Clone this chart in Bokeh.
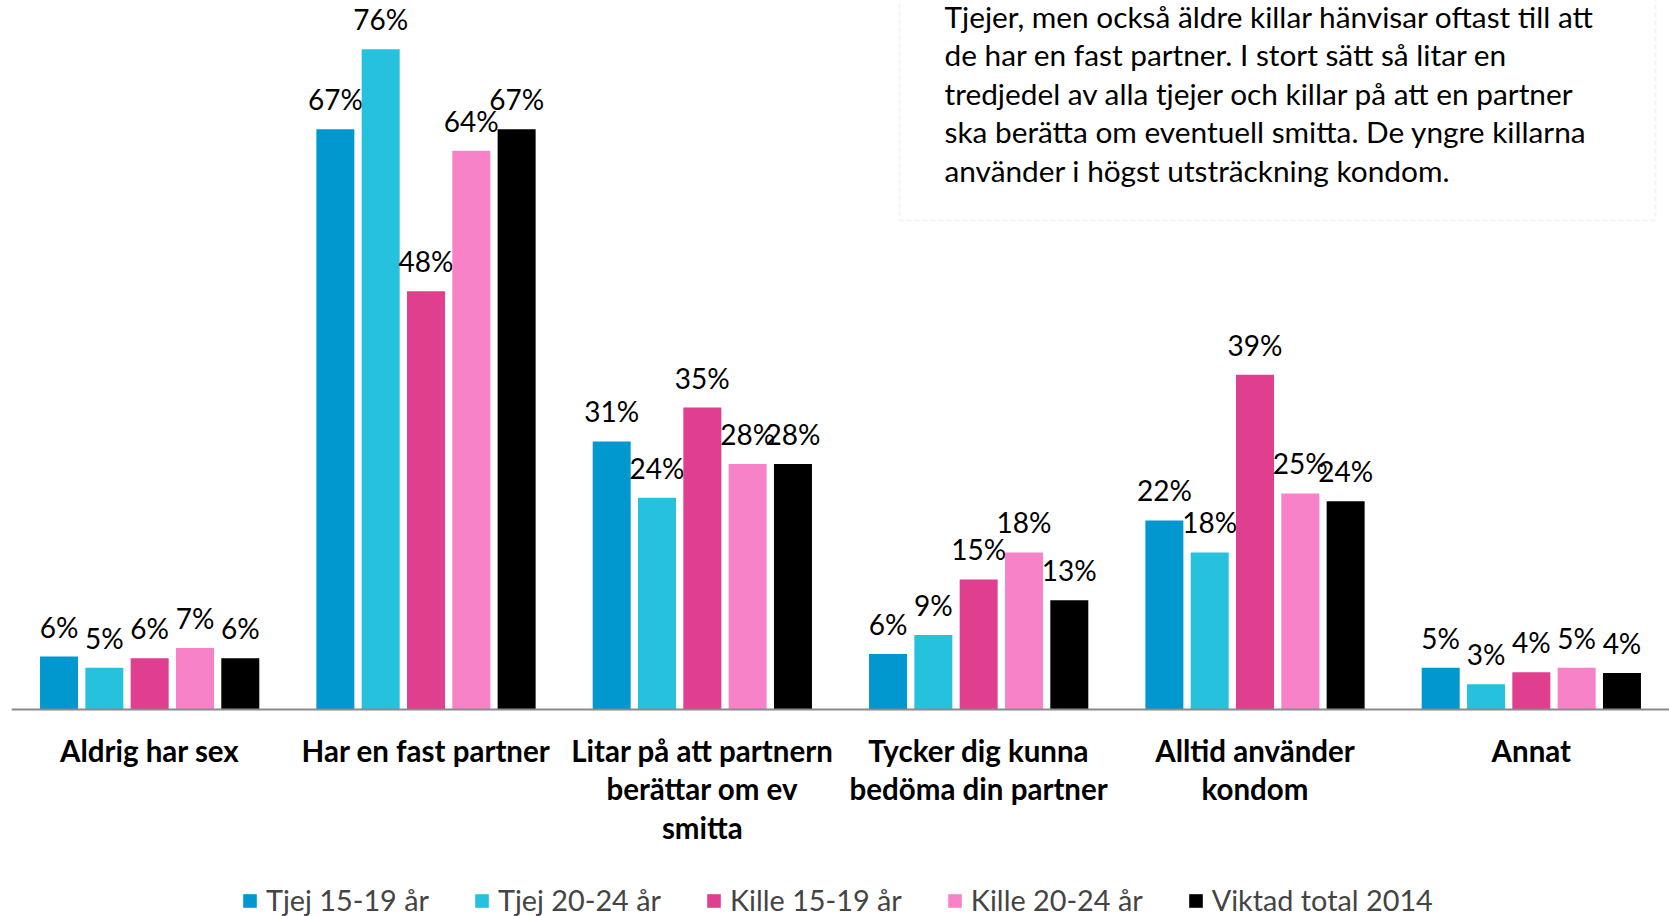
from bokeh.plotting import figure
from bokeh.models import FactorRange, Range1d, Legend, LegendItem, Label, BoxAnnotation, ColumnDataSource, Span
from bokeh.transform import dodge
from bokeh.core.properties import value
from bokeh.embed import file_html
from bokeh.resources import INLINE

categories = [
    "Aldrig har sex",
    "Har en fast partner",
    "Litar på att partnern\nberättar om ev\nsmitta",
    "Tycker dig kunna\nbedöma din partner",
    "Alltid använder\nkondom",
    "Annat",
]
series_names = ["Tjej 15-19 år", "Tjej 20-24 år", "Kille 15-19 år", "Kille 20-24 år", "Viktad total 2014"]
tjej_15_19 = [6.1, 66.9, 30.9, 6.4, 21.8, 4.8]
tjej_20_24 = [4.8, 76.1, 24.4, 8.6, 18.1, 2.9]
kille_15_19 = [5.9, 48.2, 34.8, 15.0, 38.6, 4.3]
kille_20_24 = [7.1, 64.4, 28.3, 18.1, 24.9, 4.8]
viktad_total = [5.9, 66.9, 28.3, 12.6, 24.0, 4.2]
series_values = [tjej_15_19, tjej_20_24, kille_15_19, kille_20_24, viktad_total]
colors = ["#0098CF", "#26C1DD", "#E03E8F", "#F782C7", "#000000"]

note_text = ("Tjejer, men också äldre killar hänvisar oftast till att\n"
             "de har en fast partner.  I stort sätt så litar en\n"
             "tredjedel av alla tjejer och killar på att en partner\n"
             "ska berätta om eventuell smitta. De yngre killarna\n"
             "använder i högst utsträckning kondom.")

FONT = "Lato"
W, H = 1669, 916
LEFT, RIGHT = 11, 0
BASE = 709                      # page y of the zero line
PX_PER_PCT = 8.675
FRAME_W = W - LEFT - RIGHT
Y_MAX = BASE / PX_PER_PCT
Y_MIN = -(H - BASE) / PX_PER_PCT

p = figure(
    x_range=FactorRange(*categories, range_padding=0),
    y_range=Range1d(Y_MIN, Y_MAX),
    width=W, height=H,
    output_backend="svg", toolbar_location=None,
    x_axis_location=None, y_axis_location=None,
    min_border_left=LEFT, min_border_right=RIGHT, min_border_top=0, min_border_bottom=0,
)
p.outline_line_color = None
p.grid.grid_line_color = None
p.background_fill_color = "white"
p.border_fill_color = "white"

# helpers: page pixel -> data coordinate (for the note box only)
px_x = FRAME_W / len(categories)
def dx(page_x):
    return (page_x - LEFT) / px_x
def dy(page_y):
    return Y_MAX - page_y / PX_PER_PCT

step = 0.164
width = 0.1375
items = []
for i, (name, vals, col) in enumerate(zip(series_names, series_values, colors)):
    src = ColumnDataSource(dict(cat=categories, val=vals, lbl=[f"{round(v)}%" for v in vals]))
    off = (i - 2) * step
    r = p.vbar(x=dodge("cat", off, range=p.x_range), top="val", width=width, source=src,
               fill_color=col, line_color=None)
    p.text(x=dodge("cat", off, range=p.x_range), y="val", text="lbl", source=src,
           text_align="center", text_baseline="middle", y_offset=-30,
           text_font=value(FONT), text_font_size="28px", text_color="#000000")
    items.append(LegendItem(label=name, renderers=[r]))

# category axis line and labels
p.add_layout(Span(location=0, dimension="width", line_color="#8a8a8a", line_width=2))
cat_src = ColumnDataSource(dict(cat=categories, zero=[0] * len(categories)))
p.text(x="cat", y="zero", text="cat", source=cat_src, text_align="center", text_baseline="top",
       y_offset=23, text_font=value(FONT), text_font_style="bold", text_font_size="29.5px",
       text_line_height=1.10, text_color="#000000")

# note box
box = BoxAnnotation(left=dx(899), right=dx(1655), bottom=dy(220), top=dy(-40),
                    fill_alpha=0, line_color="#d6d6d6", line_dash="5 3", line_width=1.8)
p.add_layout(box)
note = Label(x=dx(944), y=dy(-2), text=note_text, text_baseline="top", text_align="left",
             text_font=FONT, text_font_size="29.8px", text_line_height=1.10, text_color="#000000")
p.add_layout(note)

legend = Legend(items=items, orientation="horizontal",
                location=(241 - LEFT, -1),
                spacing=44, glyph_width=17, glyph_height=17, label_standoff=8,
                label_text_font=FONT, label_text_font_size="28.8px",
                border_line_color=None, background_fill_alpha=0,
                margin=0, padding=0)
p.add_layout(legend)

open("out.html", "w").write(file_html(p, INLINE))
